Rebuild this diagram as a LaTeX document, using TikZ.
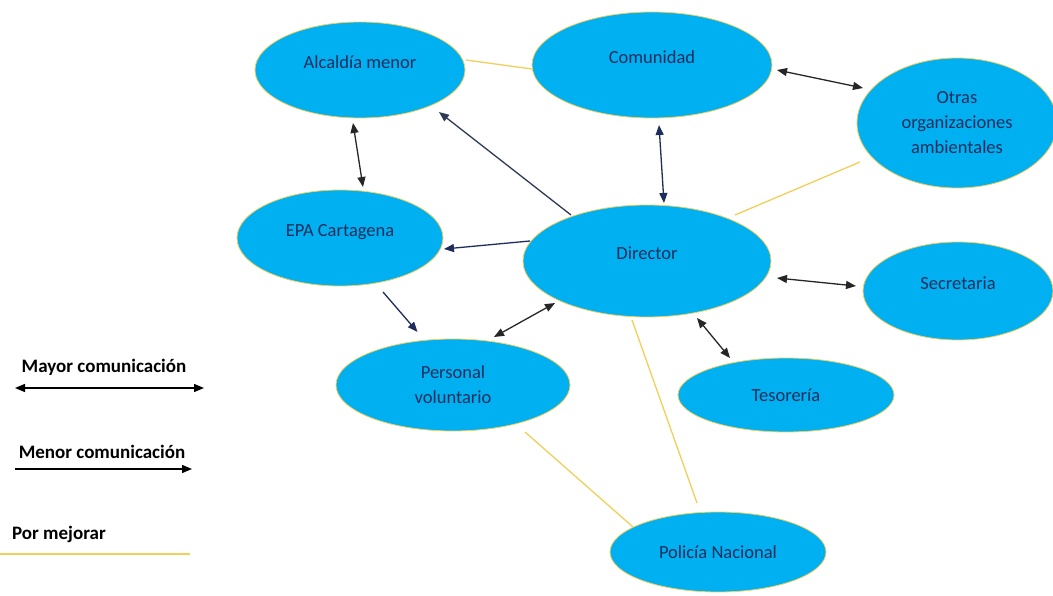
\documentclass[tikz,border=0pt]{standalone}
\usepackage{fontspec}
\setmainfont{Carlito}
\usetikzlibrary{shapes.geometric,arrows.meta,calc}
\definecolor{cyanfill}{HTML}{00B0F0}
\definecolor{navytext}{HTML}{1B2F5E}
\definecolor{goldline}{HTML}{F2CF5B}
\definecolor{darkarrow}{HTML}{262626}
\definecolor{navyarrow}{HTML}{1F2D5C}
\definecolor{slatearrow}{HTML}{2E3A55}
\tikzset{
  ell/.style={ellipse, draw=goldline, line width=0.8pt, fill=cyanfill, inner sep=0pt,
    text=navytext, font=\fontsize{18.5}{25}\selectfont, align=center},
  raised/.style={text depth=16pt},
  mayor/.style={draw=darkarrow, line width=1.3pt,
    {Triangle[length=10pt,width=8pt]}-{Triangle[length=10pt,width=8pt]}},
  mayornavy/.style={draw=navyarrow, line width=1.3pt,
    {Triangle[length=10pt,width=8pt]}-{Triangle[length=10pt,width=8pt]}},
  menor/.style={draw=navyarrow, line width=1.3pt, -{Triangle[length=10pt,width=8pt]}},
  menorslate/.style={draw=slatearrow, line width=1.3pt, -{Triangle[length=10pt,width=8pt]}},
  mejorar/.style={draw=goldline, line width=1.3pt},
  legtext/.style={font=\fontsize{19}{22}\selectfont\bfseries, text=black, inner sep=0pt}
}
\begin{document}
\begin{tikzpicture}[x=1pt,y=-1pt]
\useasboundingbox (0,0) rectangle (1053,596);
\fill[white] (0,0) rectangle (1053,596);

% nodes
\node[ell, raised, minimum width=210pt, minimum height=96pt] (alc) at (360,70) {Alcaldía menor};
\node[ell, raised, minimum width=240pt, minimum height=106pt] (com) at (652,65) {Comunidad};
\node[ell, minimum width=200pt, minimum height=130pt] (otr) at (957,123) {Otras\\organizaciones\\ambientales};
\node[ell, raised, minimum width=248pt, minimum height=112pt] (dir) at (647,261) {Director};
\node[ell, raised, minimum width=206pt, minimum height=96pt] (epa) at (340,238) {EPA Cartagena};
\node[ell, raised, minimum width=190pt, minimum height=98pt] (sec) at (958,291) {Secretaria};
\node[ell, minimum width=234pt, minimum height=92pt] (per) at (453,385) {Personal\\voluntario};
\node[ell, minimum width=216pt, minimum height=74pt] (tes) at (786,395) {Tesorería};
\node[ell, minimum width=216pt, minimum height=80pt] (pol) at (718,552) {Policía Nacional};

% connectors
\draw[mejorar] ($(alc)+(106,-10)$) -- ($(com)+(-120,4)$);
\draw[mayor] ($(com)+(125,5)$) -- ($(otr)+(-94,-35)$);
\draw[mayornavy] ($(com)+(7,60)$) -- ($(dir)+(17,-58)$);
\draw[mayor] ($(alc)+(-7,53)$) -- ($(epa)+(23,-51)$);
\draw[menorslate] ($(dir)+(-76,-46)$) -- ($(alc)+(79,42)$);
\draw[menor] ($(dir)+(-117,-20)$) -- ($(epa)+(104,11)$);
\draw[menor] ($(epa)+(43,54)$) -- ($(per)+(-35.5,-53)$);
\draw[mayor] ($(per)+(41,-48)$) -- ($(dir)+(-92,42)$);
\draw[mayor] ($(dir)+(130,17)$) -- ($(sec)+(-102,-5)$);
\draw[mayor] ($(dir)+(50,57)$) -- ($(tes)+(-56,-37)$);
\draw[mejorar] ($(dir)+(88,-46)$) -- ($(otr)+(-97,39)$);
\draw[mejorar] ($(dir)+(-15,59)$) -- ($(pol)+(-21,-49)$);
\draw[mejorar] ($(per)+(72,47)$) -- ($(pol)+(-85,-25)$);

% legend
\node[legtext] (lmayor) at (104,367) {Mayor comunicación};
\coordinate (ma1) at (15,388);
\coordinate (ma2) at (204,388);
\draw[draw=black, line width=1.3pt, {Triangle[length=10pt,width=8pt]}-{Triangle[length=10pt,width=8pt]}] (ma1) -- (ma2);

\node[legtext] (lmenor) at (102,452) {Menor comunicación};
\coordinate (me1) at (15,469);
\coordinate (me2) at (192,469);
\draw[draw=black, line width=1.3pt, -{Triangle[length=10pt,width=8pt]}] (me1) -- (me2);

\node[legtext] (lmejorar) at (59,534) {Por mejorar};
\coordinate (mj1) at (0,554);
\coordinate (mj2) at (190,554);
\draw[mejorar] (mj1) -- (mj2);
\end{tikzpicture}
\end{document}
